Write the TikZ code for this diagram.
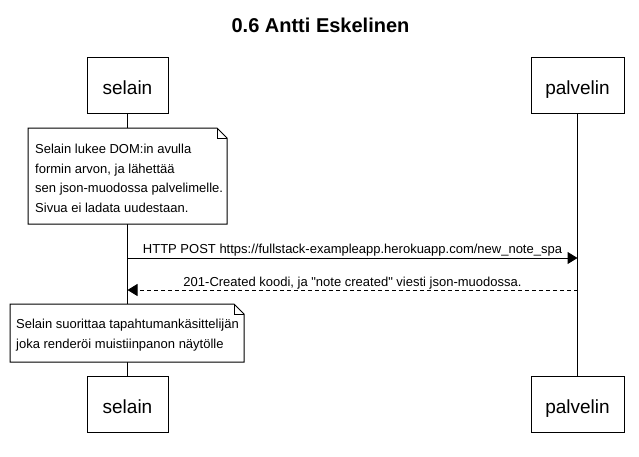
\documentclass[tikz,border=0pt]{standalone}
\usepackage{fontspec}
\setmainfont{Liberation Sans}
\usetikzlibrary{arrows.meta}

\tikzset{
	actor/.style={draw, line width=1pt, minimum height=56pt, inner sep=0pt,
		font=\fontsize{19}{22}\selectfont, text height=18pt, text depth=0pt},
	notetext/.style={anchor=west, align=left, inner sep=0pt,
		font=\fontsize{13}{19.6}\selectfont},
	notebox/.style={draw, fill=white, line width=1pt},
	msglabel/.style={anchor=base, inner sep=0pt, font=\fontsize{13}{15}\selectfont},
	msg/.style={line width=1pt, -{Triangle[length=10pt, width=12pt]}},
}

\begin{document}
\begin{tikzpicture}[x=1pt, y=-1pt]
		\useasboundingbox (0, 0) rectangle (639, 456);
		
		\node (title) [anchor=base, font=\fontsize{20}{24}\selectfont\bfseries] at (320.5, 32) {0.6 Antti Eskelinen};
		
		\node (S1) [actor, minimum width=81pt] at (127.5, 85) {selain};
		\node (P1) [actor, minimum width=93pt] at (577.5, 85.5) {palvelin};
		\node (S2) [actor, minimum width=81pt] at (127.5, 404) {selain};
		\node (P2) [actor, minimum width=93pt] at (577.5, 404) {palvelin};
		
		\draw [line width=1pt] (S1) -- (S2);
		\draw [line width=1pt] (P1) -- (P2);
		
		% first note
		\draw [notebox] (28, 128) -- (217, 128) -- (227, 138) -- (227, 224) -- (28, 224) -- cycle;
		\draw [line width=0.6pt] (217, 128) -- (217, 138) -- (227, 138);
		\node (N1) [notetext] at (35, 178.25) {Selain lukee DOM:in avulla\\formin arvon, ja lähettää\\sen json-muodossa palvelimelle.\\Sivua ei ladata uudestaan.};
		
		\coordinate (A1) at (S1.south |- 0, 258);
		\coordinate (A2) at (P1.south |- 0, 258);
		\coordinate (B1) at (P1.south |- 0, 290);
		\coordinate (B2) at (S1.south |- 0, 290);
		
		\draw [msg] (A1) -- (A2);
		\node (L1) [msglabel] at (352.5, 253) {HTTP POST https://fullstack-exampleapp.herokuapp.com/new\_note\_spa};
		\draw [msg, dash pattern=on 4pt off 3pt] (B1) -- (B2);
		\node (L2) [msglabel] at (352.5, 286) {201-Created koodi, ja \textquotedbl note created\textquotedbl{} viesti json-muodossa.};
		
		% second note
		\draw [notebox] (10, 304) -- (234, 304) -- (244, 314) -- (244, 362) -- (10, 362) -- cycle;
		\draw [line width=0.6pt] (234, 304) -- (234, 314) -- (244, 314);
		\node (N2) [notetext] at (16, 335.4) {Selain suorittaa tapahtumankäsittelijän\\joka renderöi muistiinpanon näytölle};
	\end{tikzpicture}
\end{document}
